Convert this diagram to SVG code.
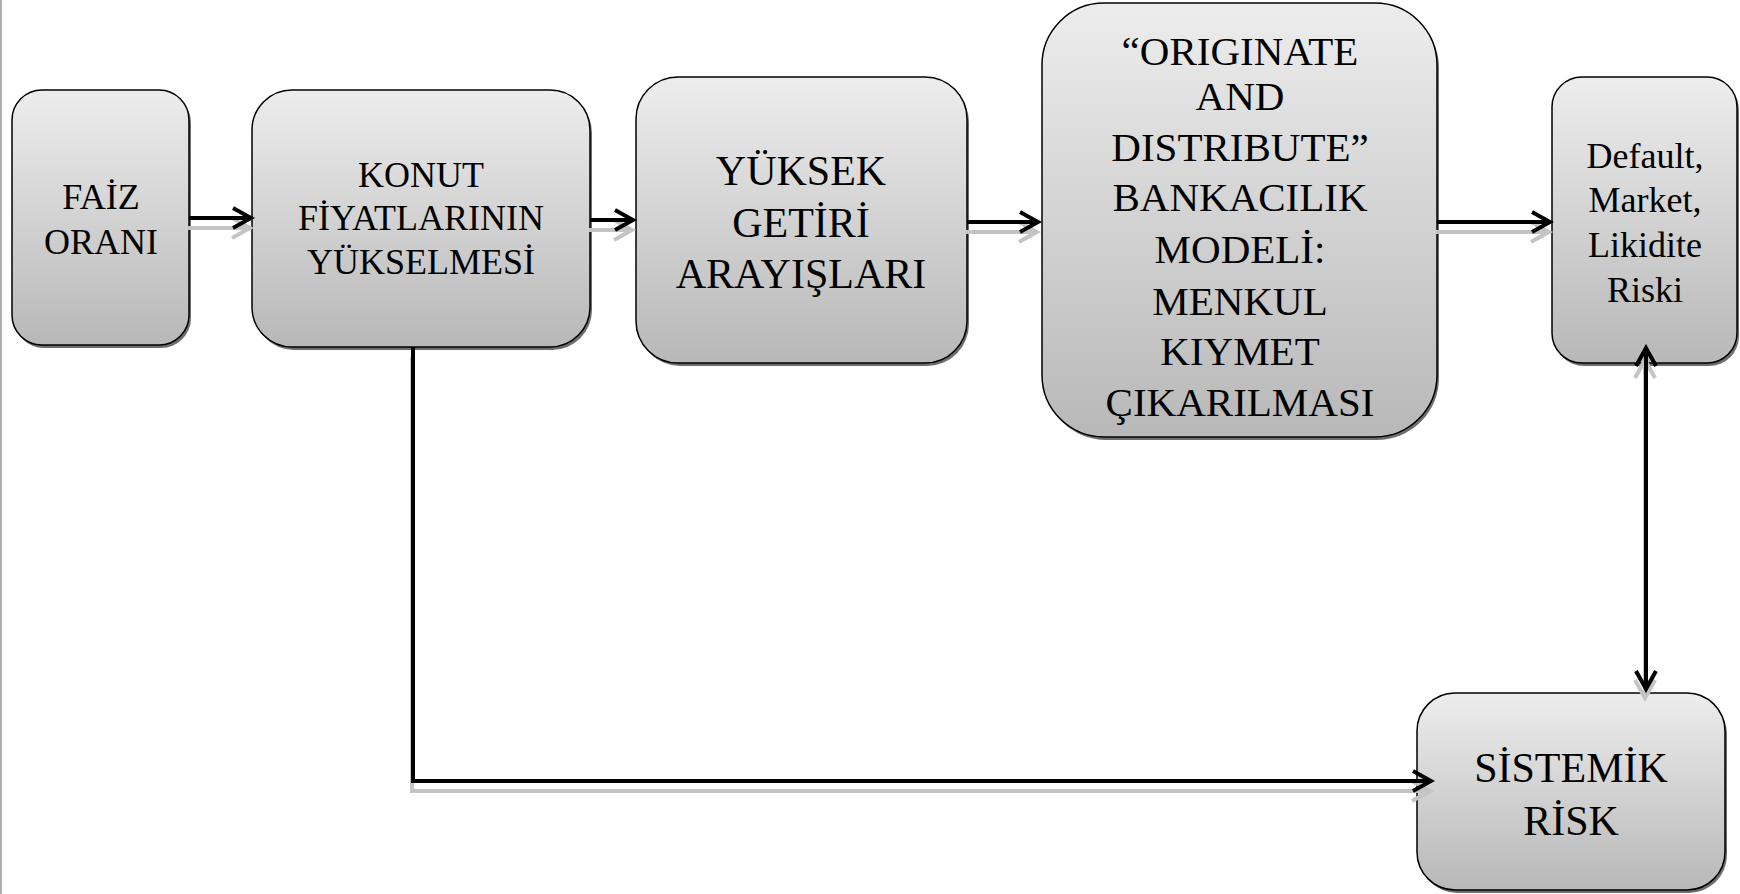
<svg xmlns="http://www.w3.org/2000/svg" width="1740" height="894" viewBox="0 0 1740 894">
<defs>
<linearGradient id="boxfill" x1="0" y1="0" x2="0" y2="1">
<stop offset="0" stop-color="#ededed"/>
<stop offset="1" stop-color="#b8b8b8"/>
</linearGradient>
<marker id="ah" viewBox="-22 -13 26 26" refX="0" refY="0" markerWidth="26" markerHeight="26" markerUnits="userSpaceOnUse" orient="auto-start-reverse">
<path d="M-18,-10 L0,0 L-18,10" fill="none" stroke="#000" stroke-width="4"/>
</marker>
<marker id="ahs" viewBox="-22 -13 26 26" refX="0" refY="0" markerWidth="26" markerHeight="26" markerUnits="userSpaceOnUse" orient="auto-start-reverse">
<path d="M-18,-10 L0,0 L-18,10" fill="none" stroke="#c4c4c4" stroke-width="4"/>
</marker>
</defs>
<style>
.box{fill:url(#boxfill);stroke:#000;stroke-width:1.5}
.shd{fill:#555;opacity:0.85}
.t{font-family:"Liberation Serif","Times New Roman",serif;fill:#000;text-anchor:middle}
.c{fill:none;stroke:#000;stroke-width:4}
.cs{fill:none;stroke:#c4c4c4;stroke-width:4}
</style>
<rect x="0" y="0" width="2" height="894" fill="#b0b0b0"/>

<g id="faiz">
<rect class="shd" x="14" y="93" width="177" height="255" rx="30"/>
<rect class="box" x="12" y="90" width="177" height="255" rx="30"/>
<text class="t" font-size="36"><tspan x="101" y="209">FAİZ</tspan><tspan x="101" y="254">ORANI</tspan></text>
</g>

<g id="konut">
<rect class="shd" x="254" y="93" width="338" height="257" rx="40"/>
<rect class="box" x="252" y="90" width="338" height="257" rx="40"/>
<text class="t" font-size="36"><tspan x="421" y="187">KONUT</tspan><tspan x="421" y="230">FİYATLARININ</tspan><tspan x="421" y="274">YÜKSELMESİ</tspan></text>
</g>

<g id="yuksek">
<rect class="shd" x="638" y="80" width="331" height="286" rx="42"/>
<rect class="box" x="636" y="77" width="331" height="286" rx="42"/>
<text class="t" font-size="42"><tspan x="801" y="185">YÜKSEK</tspan><tspan x="801" y="237">GETİRİ</tspan><tspan x="801" y="288">ARAYIŞLARI</tspan></text>
</g>

<g id="originate">
<rect class="shd" x="1044" y="6" width="395" height="434" rx="62"/>
<rect class="box" x="1042" y="3" width="395" height="434" rx="62"/>
<text class="t" font-size="41"><tspan x="1240" y="65">“ORIGINATE</tspan><tspan x="1240" y="110">AND</tspan><tspan x="1240" y="161">DISTRIBUTE”</tspan><tspan x="1240" y="211">BANKACILIK</tspan><tspan x="1240" y="263">MODELİ:</tspan><tspan x="1240" y="315">MENKUL</tspan><tspan x="1240" y="365">KIYMET</tspan><tspan x="1240" y="416">ÇIKARILMASI</tspan></text>
</g>

<g id="default">
<rect class="shd" x="1554" y="80" width="185" height="286" rx="30"/>
<rect class="box" x="1552" y="77" width="185" height="286" rx="30"/>
<text class="t" font-size="36"><tspan x="1645" y="168">Default,</tspan><tspan x="1645" y="212">Market,</tspan><tspan x="1645" y="257">Likidite</tspan><tspan x="1645" y="302">Riski</tspan></text>
</g>

<g id="sistemik">
<rect class="shd" x="1419" y="696" width="308" height="197" rx="38"/>
<rect class="box" x="1417" y="693" width="308" height="197" rx="38"/>
<text class="t" font-size="42"><tspan x="1571" y="782">SİSTEMİK</tspan><tspan x="1571" y="835">RİSK</tspan></text>
</g>

<g id="connectors">
<g id="connector-shadows" transform="translate(-1,10)">
<path class="cs" d="M189,218 L251,218" marker-end="url(#ahs)"/>
<path class="cs" d="M590,220 L633,220" marker-end="url(#ahs)"/>
<path class="cs" d="M967,222 L1038,222" marker-end="url(#ahs)"/>
<path class="cs" d="M1437,222 L1550,222" marker-end="url(#ahs)"/>
<path class="cs" d="M413,347 L413,781 L1431,781" marker-end="url(#ahs)"/>
<path class="cs" d="M1646,350 L1646,688" marker-start="url(#ahs)" marker-end="url(#ahs)"/>
</g>
<path class="c" d="M189,218 L251,218" marker-end="url(#ah)"/>
<path class="c" d="M590,220 L633,220" marker-end="url(#ah)"/>
<path class="c" d="M967,222 L1038,222" marker-end="url(#ah)"/>
<path class="c" d="M1437,222 L1550,222" marker-end="url(#ah)"/>
<path class="c" d="M413,347 L413,781 L1431,781" marker-end="url(#ah)"/>
<path class="c" d="M1646,348 L1646,689" marker-start="url(#ah)" marker-end="url(#ah)"/>
</g>
</svg>
